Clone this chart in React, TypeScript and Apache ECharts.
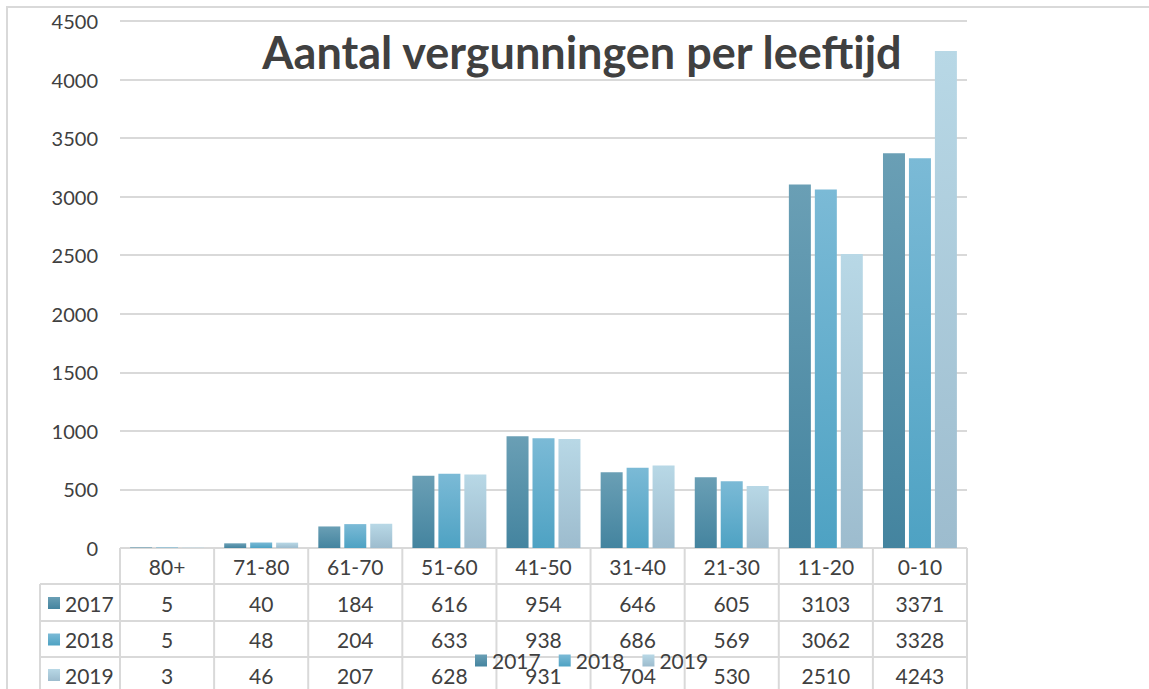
import React, { useEffect, useRef } from "react";
import * as echarts from "echarts";

const categories = ["80+", "71-80", "61-70", "51-60", "41-50", "31-40", "21-30", "11-20", "0-10"];
const years = ["2017", "2018", "2019"];
const values2017 = [5, 40, 184, 616, 954, 646, 605, 3103, 3371];
const values2018 = [5, 48, 204, 633, 938, 686, 569, 3062, 3328];
const values2019 = [3, 46, 207, 628, 931, 704, 530, 2510, 4243];
const yTicks = { min: 0, max: 4500, interval: 500 };
const title = "Aantal vergunningen per leeftijd";

const gradients: [string, string][] = [
  ["#6a9fb5", "#44849f"],
  ["#7bbad6", "#4ea2c3"],
  ["#b8d8e6", "#9dbcce"],
];

const FONT = "Lato, 'Open Sans', sans-serif";
const TEXT = "#404040";
const LINE = "#d9d9d9";
const FS = 21;

export default function App() {
  const ref = useRef<HTMLDivElement>(null);
  useEffect(() => {
    if (!ref.current) return;
    const chart = echarts.init(ref.current, undefined, { renderer: "svg" });
    const W = 1149;
    const H = 689;
    const gridLeft = 120;
    const gridRight = 967;
    const gridTop = 21;
    const gridBottom = 548;
    const colW = (gridRight - gridLeft) / categories.length;
    const seriesData = [values2017, values2018, values2019];

    const grad = (c: [string, string]) =>
      new echarts.graphic.LinearGradient(0, 0, 0, 1, [
        { offset: 0, color: c[0] },
        { offset: 1, color: c[1] },
      ]);

    const graphics: any[] = [];
    graphics.push({
      type: "rect",
      shape: { x: 7, y: 7, width: 1300, height: 800 },
      style: { fill: "none", stroke: LINE, lineWidth: 2 },
      silent: true,
    });
    graphics.push({
      type: "text",
      x: 582,
      y: 52,
      style: {
        text: title,
        font: `bold 45px ${FONT}`,
        fill: TEXT,
        textAlign: "center",
        textVerticalAlign: "middle",
      },
    });
    const rowYs = [gridBottom, 584, 621, 657];
    rowYs.forEach((y, i) => {
      graphics.push({
        type: "line",
        shape: { x1: i === 0 ? gridLeft : 40, y1: y, x2: gridRight, y2: y },
        style: { stroke: LINE, lineWidth: 2 },
        silent: true,
      });
    });
    graphics.push({
      type: "line",
      shape: { x1: 40, y1: 584, x2: 40, y2: H + 5 },
      style: { stroke: LINE, lineWidth: 2 },
      silent: true,
    });
    for (let i = 0; i <= categories.length; i++) {
      const x = gridLeft + i * colW;
      graphics.push({
        type: "line",
        shape: { x1: x, y1: gridBottom, x2: x, y2: H + 5 },
        style: { stroke: LINE, lineWidth: 2 },
        silent: true,
      });
    }
    const rowCenters = [566, 603, 639.5, 675];
    categories.forEach((c, i) => {
      graphics.push({
        type: "text",
        x: gridLeft + (i + 0.5) * colW,
        y: rowCenters[0],
        style: { text: c, font: `${FS}px ${FONT}`, fill: TEXT, textAlign: "center", textVerticalAlign: "middle" },
      });
    });
    seriesData.forEach((vals, r) => {
      const cy = rowCenters[r + 1];
      graphics.push({
        type: "rect",
        shape: { x: 48, y: cy - 6, width: 12, height: 12 },
        style: { fill: grad(gradients[r]) },
      });
      graphics.push({
        type: "text",
        x: 65,
        y: cy,
        style: { text: years[r], font: `${FS}px ${FONT}`, fill: TEXT, textAlign: "left", textVerticalAlign: "middle" },
      });
      vals.forEach((v, i) => {
        graphics.push({
          type: "text",
          x: gridLeft + (i + 0.5) * colW,
          y: cy,
          style: { text: String(v), font: `${FS}px ${FONT}`, fill: TEXT, textAlign: "center", textVerticalAlign: "middle" },
        });
      });
    });

    chart.setOption({
      animation: false,
      backgroundColor: "#ffffff",
      textStyle: { fontFamily: FONT },
      grid: {
        left: gridLeft,
        right: W - gridRight,
        top: gridTop,
        bottom: H - gridBottom,
        containLabel: false,
      },
      legend: {
        data: years,
        left: 470,
        top: 645,
        itemWidth: 12,
        itemHeight: 12,
        itemGap: 18,
        icon: "rect",
        textStyle: { fontSize: FS, color: TEXT, fontFamily: FONT },
        z: 10,
      },
      xAxis: {
        type: "category",
        data: categories,
        axisLine: { show: false },
        axisTick: { show: false },
        axisLabel: { show: false },
      },
      yAxis: {
        type: "value",
        min: yTicks.min,
        max: yTicks.max,
        interval: yTicks.interval,
        axisLine: { show: false },
        axisTick: { show: false },
        axisLabel: {
          fontSize: 20,
          color: TEXT,
          margin: 22,
          fontFamily: FONT,
          formatter: (v: number) => String(v),
        },
        splitLine: { lineStyle: { color: LINE, width: 2 } },
      },
      series: seriesData.map((vals, r) => ({
        name: years[r],
        type: "bar",
        data: vals,
        barWidth: 22,
        barGap: "18%",
        itemStyle: { color: grad(gradients[r]) },
      })),
      graphic: graphics,
    });
    return () => chart.dispose();
  }, []);
  return (
    <div
      ref={ref}
      style={{ position: "fixed", left: 0, top: 0, width: 1149, height: 689 }}
    />
  );
}
